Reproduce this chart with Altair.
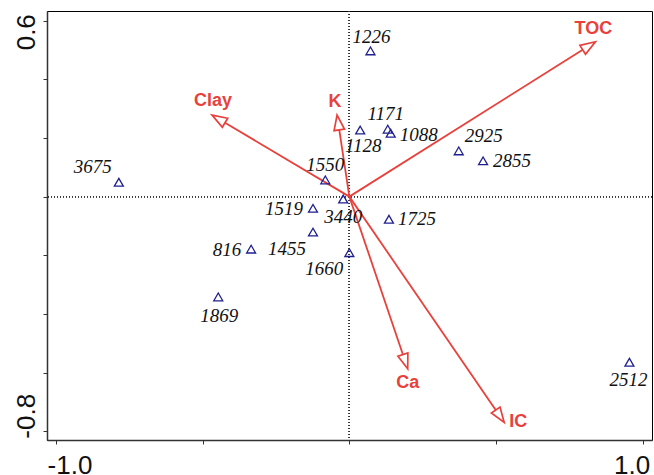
import altair as alt
import numpy as np
import pandas as pd

# Sample scores (site codes) on the first two ordination axes
sites = ["1226", "1171", "1088", "1128", "2925", "2855", "3675", "1550",
         "3440", "1519", "1725", "1455", "816", "1660", "1869", "2512"]
site_x = [0.072, 0.131, 0.141, 0.037, 0.373, 0.456, -0.786, -0.082,
          -0.021, -0.124, 0.135, -0.124, -0.335, 0.000, -0.447, 0.955]
site_y = [0.497, 0.230, 0.216, 0.227, 0.156, 0.122, 0.049, 0.057,
          -0.008, -0.040, -0.077, -0.121, -0.179, -0.191, -0.342, -0.565]

# Explanatory variables (biplot arrows)
variables = ["TOC", "Clay", "K", "Ca", "IC"]
var_x = [0.839, -0.468, -0.042, 0.199, 0.528]
var_y = [0.528, 0.278, 0.278, -0.587, -0.770]

# Label placement around each marker, in pixels (right / down positive)
site_label_dx = [1, -2, 28, 3, 25, 29, -26, 0, 0, -29, 28, -26, -24, -25, 1, -1]
site_label_dy = [-14, -15, 2, 16, -15, 0, -15, -15, 18, 1, 0, 17, 1, 16, 19, 18]
var_label_dx = [-2, 1, -2, 0, 14]
var_label_dy = [-13, -14, -13, 14, 0]

RED = "#e8413c"
NAVY = "#1f1f8f"
X_DOMAIN = [-1.031, 1.032]
Y_DOMAIN = [-0.83, 0.633]
PX_PER_UNIT = 605 / (X_DOMAIN[1] - X_DOMAIN[0])
HEAD_LEN = 15  # arrowhead length in px

sx = np.array(site_x)
sy = np.array(site_y)
sites_df = pd.DataFrame({
    "site": sites, "x": sx, "y": sy,
    "lx": sx + np.array(site_label_dx) / PX_PER_UNIT,
    "ly": sy - np.array(site_label_dy) / PX_PER_UNIT,
})

vx = np.array(var_x)
vy = np.array(var_y)
norm = np.hypot(vx, vy)
shrink = 1 - (HEAD_LEN / PX_PER_UNIT) / norm
arrows_df = pd.DataFrame({
    "var": variables, "x": vx, "y": vy,
    "x0": 0.0, "y0": 0.0,
    "xe": vx * shrink, "ye": vy * shrink,
    "ang": np.mod(np.degrees(np.arctan2(vx, vy)), 360),
    "lx": vx + np.array(var_label_dx) / PX_PER_UNIT,
    "ly": vy - np.array(var_label_dy) / PX_PER_UNIT,
})

xs = alt.Scale(domain=X_DOMAIN, nice=False, zero=False)
ys = alt.Scale(domain=Y_DOMAIN, nice=False, zero=False)

end_label = "replace(format(datum.value, '.1f'), '\u2212', '-')"

x_axis = alt.Axis(
    values=[-1.0, -0.5, 0.0, 0.5, 1.0],
    labelExpr=f"abs(datum.value) > 0.9 ? {end_label} : ''",
    title=None, grid=False, tickSize=4, tickColor="#333",
    domainColor="#333", domainWidth=1.5,
    labelFont="Liberation Sans", labelFontSize=26, labelColor="#111",
    labelPadding=8,
    labelAlign={"condition": {"test": "datum.value < 0", "value": "left"}, "value": "right"},
    labelOffset={"condition": {"test": "datum.value < 0", "value": -9}, "value": 7},
)
y_axis = alt.Axis(
    values=[-0.8, -0.6, -0.4, -0.2, 0.0, 0.2, 0.4, 0.6],
    labelExpr=f"abs(datum.value - 0.6) < 0.01 || abs(datum.value + 0.8) < 0.01 ? {end_label} : ''",
    title=None, grid=False, tickSize=4, tickColor="#333",
    domainColor="#333", domainWidth=1.5,
    labelFont="Liberation Sans", labelFontSize=26, labelColor="#111",
    labelAngle=-90, labelBaseline="alphabetic", labelPadding=9,
    labelAlign={"condition": {"test": "datum.value < 0", "value": "left"}, "value": "right"},
    labelOffset={"condition": {"test": "datum.value < 0", "value": 7}, "value": -7},
)

base_pts = alt.Chart(sites_df)

axes_layer = base_pts.mark_point(opacity=0).encode(
    x=alt.X("x:Q", scale=xs, axis=x_axis),
    y=alt.Y("y:Q", scale=ys, axis=y_axis),
)

# Dotted reference lines through the origin
zero_v = alt.Chart(sites_df).mark_rule(color="#333", strokeDash=[1, 2], strokeWidth=1).encode(
    x=alt.datum(0, scale=xs)
)
zero_h = alt.Chart(sites_df).mark_rule(color="#333", strokeDash=[1, 2], strokeWidth=1).encode(
    y=alt.datum(0, scale=ys)
)

points = base_pts.mark_point(shape="triangle-up", filled=False, color=NAVY,
                             strokeWidth=1.3, size=80, opacity=1).encode(
    x=alt.X("x:Q", scale=xs), y=alt.Y("y:Q", scale=ys)
)
point_labels = base_pts.mark_text(font="Liberation Serif", fontStyle="italic",
                                  fontSize=19, color="#111", baseline="middle",
                                  align="center").encode(
    x=alt.X("lx:Q", scale=xs), y=alt.Y("ly:Q", scale=ys),
    text="site:N",
)

base_arr = alt.Chart(arrows_df)
shafts = base_arr.mark_rule(color=RED, strokeWidth=1.8).encode(
    x=alt.X("x0:Q", scale=xs), y=alt.Y("y0:Q", scale=ys),
    x2="xe:Q", y2="ye:Q",
)
heads = base_arr.mark_point(shape="M0,0L-0.7,2L0.7,2Z", filled=False, color=RED,
                            strokeWidth=1.7, size=225, opacity=1).encode(
    x=alt.X("x:Q", scale=xs), y=alt.Y("y:Q", scale=ys),
    angle=alt.Angle("ang:Q", scale=None),
)
arrow_labels = base_arr.mark_text(font="Liberation Sans", fontWeight="bold",
                                  fontSize=18, color=RED, baseline="middle",
                                  align="center").encode(
    x=alt.X("lx:Q", scale=xs), y=alt.Y("ly:Q", scale=ys),
    text="var:N",
)

chart = alt.layer(
    axes_layer, zero_v, zero_h, shafts, heads, points, point_labels, arrow_labels
).properties(
    width=605, height=429,
    autosize=alt.AutoSizeParams(type="none"),
    padding={"left": 47, "top": 11, "right": 2, "bottom": 35},
    background="white",
).configure_view(stroke="black", strokeWidth=1)

chart.save("out.html", embed_options={"renderer": "svg", "actions": False})
